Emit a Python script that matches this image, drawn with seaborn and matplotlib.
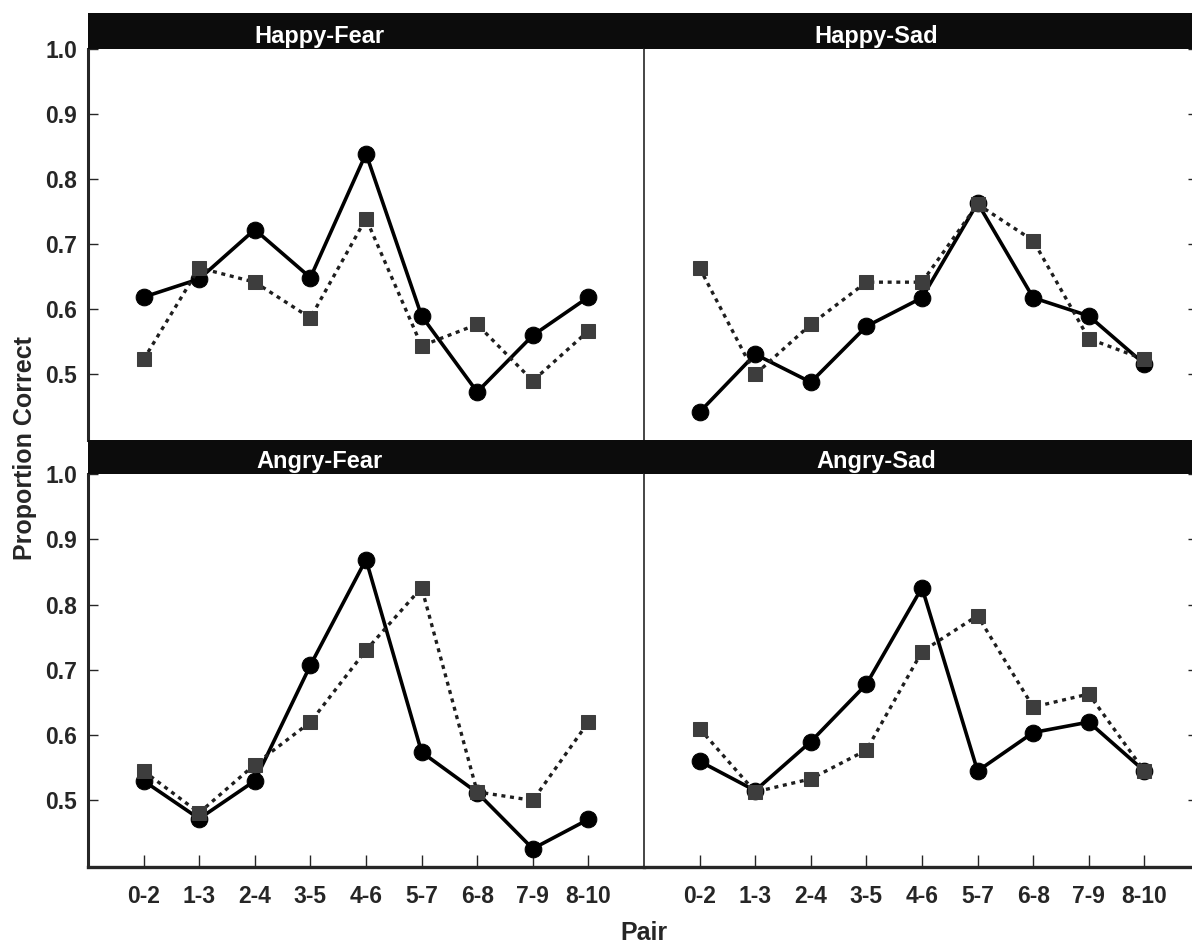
import numpy as np
import pandas as pd
import matplotlib
matplotlib.use("Agg")
import matplotlib.pyplot as plt
from matplotlib.ticker import FormatStrFormatter
import seaborn as sns

# ── Data ──────────────────────────────────────────────────────────────────
PAIRS  = ["0-2", "1-3", "2-4", "3-5", "4-6", "5-7", "6-8", "7-9", "8-10"]
PANELS = ["Happy-Fear", "Happy-Sad", "Angry-Fear", "Angry-Sad"]
YTICKS = [0.5, 0.6, 0.7, 0.8, 0.9, 1.0]

# filled circles, solid line
happy_fear_circle = [0.618, 0.646, 0.722, 0.648, 0.839, 0.589, 0.472, 0.559, 0.618]
happy_sad_circle  = [0.441, 0.530, 0.487, 0.573, 0.617, 0.763, 0.617, 0.589, 0.515]
angry_fear_circle = [0.530, 0.472, 0.530, 0.707, 0.869, 0.574, 0.512, 0.426, 0.471]
angry_sad_circle  = [0.560, 0.515, 0.590, 0.678, 0.826, 0.545, 0.604, 0.620, 0.545]

# grey squares, dotted line
happy_fear_square = [0.522, 0.663, 0.641, 0.586, 0.739, 0.543, 0.576, 0.489, 0.566]
happy_sad_square  = [0.663, 0.499, 0.576, 0.641, 0.641, 0.761, 0.705, 0.554, 0.522]
angry_fear_square = [0.545, 0.481, 0.555, 0.620, 0.730, 0.826, 0.513, 0.500, 0.620]
angry_sad_square  = [0.610, 0.513, 0.533, 0.577, 0.728, 0.783, 0.643, 0.663, 0.545]

CIRCLES = [happy_fear_circle, happy_sad_circle, angry_fear_circle, angry_sad_circle]
SQUARES = [happy_fear_square, happy_sad_square, angry_fear_square, angry_sad_square]

# ── Style ─────────────────────────────────────────────────────────────────
sns.set_style("ticks")
plt.rcParams["font.family"] = ["Liberation Sans", "DejaVu Sans"]
plt.rcParams["font.weight"] = "bold"

W, H = 1192, 944
fig = plt.figure(figsize=(W / 100, H / 100), dpi=100)

def fx(px):
    return px / W

def fy(px):
    return 1 - px / H

# panel boxes in pixels
col_x = [(88, 644), (644, 1200)]
row_y = [(49, 440), (474, 867)]
bar_y = [(13, 49), (440, 474)]

for i, name in enumerate(PANELS):
    r, c = divmod(i, 2)
    x0, x1 = col_x[c]
    y0, y1 = row_y[r]
    ax = fig.add_axes([fx(x0), fy(y1), fx(x1 - x0), (y1 - y0) / H])

    df_c = pd.DataFrame({"pair": PAIRS, "value": CIRCLES[i]})
    df_s = pd.DataFrame({"pair": PAIRS, "value": SQUARES[i]})

    sns.lineplot(data=df_c, x="pair", y="value", ax=ax, sort=False,
                 color="black", linewidth=2.6, marker="o", markersize=12,
                 markeredgecolor="black", zorder=3)
    sns.lineplot(data=df_s, x="pair", y="value", ax=ax, sort=False,
                 color="#1e1e1e", linewidth=2.4, linestyle=(0, (1.2, 1.4)),
                 marker="s", markersize=10.5, markerfacecolor="#3d3d3d",
                 markeredgecolor="#3d3d3d", zorder=4)

    ax.set_xlim(-1, 9)
    ax.set_ylim(0.398, 1.0)
    ax.set_yticks(YTICKS)
    ax.yaxis.set_major_formatter(FormatStrFormatter("%.1f"))
    ax.set_xlabel("")
    ax.set_ylabel("")
    ax.spines["top"].set_visible(False)

    if c == 0:
        ax.spines["left"].set_linewidth(2.2)
        ax.spines["right"].set_visible(False)
        ax.tick_params(axis="y", direction="in", length=7.5, width=1,
                       left=True, right=False, labelleft=True,
                       labelsize=16.5, pad=8)
    else:
        ax.spines["left"].set_linewidth(1.2)
        ax.spines["right"].set_linewidth(1.2)
        ax.tick_params(axis="y", direction="in", length=9, width=1,
                       left=False, right=True, labelleft=False)

    if r == 1:
        ax.spines["bottom"].set_linewidth(2.4)
        ax.tick_params(axis="x", direction="in", length=8.5, width=1,
                       labelsize=16.5, pad=13)
    else:
        ax.spines["bottom"].set_visible(False)
        ax.tick_params(axis="x", bottom=False, labelbottom=False)

    for lab in ax.get_xticklabels() + ax.get_yticklabels():
        lab.set_fontweight("bold")

    # black title strip
    b0, b1 = bar_y[r]
    bax = fig.add_axes([fx(x0), fy(b1), fx(x1 - x0), (b1 - b0) / H])
    bax.set_facecolor("#0c0c0c")
    bax.set_xticks([])
    bax.set_yticks([])
    for s in bax.spines.values():
        s.set_visible(False)
    bax.text(0.417, 0.17, name, transform=bax.transAxes, ha="center",
             va="baseline", color="white", fontsize=17, fontweight="bold")

fig.text(fx(25), fy(448), "Proportion Correct", rotation=90, ha="center",
         va="center", fontsize=18, fontweight="bold")
fig.text(fx(644), fy(933), "Pair", ha="center", va="center",
         fontsize=18, fontweight="bold")

fig.savefig("out.png", dpi=100)
